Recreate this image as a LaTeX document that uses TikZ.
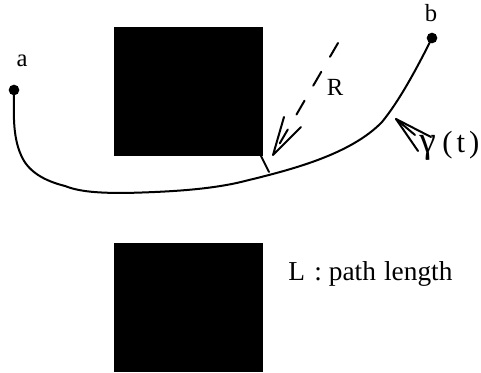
\documentclass[tikz,border=0pt]{standalone}
\usepackage{fontspec}
\setmainfont{Liberation Serif}
\begin{document}
\begin{tikzpicture}[x=0.75pt,y=-0.75pt,
  blackblock/.style={fill=black,draw=none},
  pathdot/.style={circle,fill=black,draw=none,inner sep=0pt,minimum size=8pt},
  lbl/.style={font=\fontsize{18.5pt}{20pt}\selectfont,text=black,inner sep=0pt},
  stroke/.style={line width=1.5pt,line cap=round,line join=round}]
\useasboundingbox (0,0) rectangle (481,373);
\fill[blackblock] (114,27) rectangle (263,156);
\fill[blackblock] (114,243) rectangle (263,372);
\node[pathdot] (a) at (14,90) {};
\node[pathdot] (b) at (432,38) {};
\draw[stroke] (a.center) .. controls (14,110) and (12,135) .. (21,155)
  .. controls (28,172) and (45,181) .. (65,186)
  .. controls (80,192) and (100,193) .. (125,193)
  .. controls (165,192) and (210,190) .. (245,181)
  .. controls (290,170) and (350,155) .. (382,122)
  .. controls (400,100) and (418,66) .. (b.center);
% R
\coordinate (rs) at (338,43);
\coordinate (rt) at (273,155);
\draw[stroke,dash pattern=on 12pt off 13pt] (rs) -- (rt);
\coordinate (r1) at (284,117);
\coordinate (r2) at (301,127);
\draw[stroke] (r1) -- (rt) -- (r2);
\coordinate (t1) at (261,156);
\coordinate (t2) at (269,172);
\draw[stroke] (t1) -- (t2);
% gamma arrow
\coordinate (gt) at (396,119);
\coordinate (g1) at (431,137);
\coordinate (g2) at (418,151);
\coordinate (g3) at (415,135);
\draw[stroke] (g1) -- (gt) -- (g2);
\draw[stroke] (gt) -- (g3);
\node[lbl] (la) at (22,61) {a};
\node[lbl] (lb) at (431,13) {b};
\node[lbl] (lr) at (335,87) {R};
\node[lbl,anchor=base west,font=\fontsize{23pt}{26pt}\selectfont] (lg) at (419,153) {{\fontsize{28pt}{28pt}\selectfont γ}\hspace{5pt}(\hspace{3pt}t\hspace{3pt})};
\node[lbl,anchor=west,font=\fontsize{20.5pt}{22pt}\selectfont] (ll) at (288,274) {L\hspace{2pt} : path\hspace{1pt} length};
\end{tikzpicture}
\end{document}
